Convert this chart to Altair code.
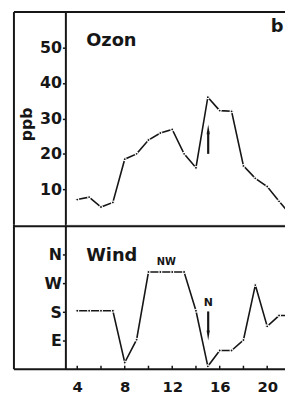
import altair as alt
import pandas as pd

# ---- data ----
hours = list(range(4, 23))
ozone = [7.1, 7.8, 5.0, 6.3, 18.5, 20.0, 23.9, 25.9, 26.9, 20.0, 16.1, 36.0, 32.2, 32.0, 16.6, 13.1, 10.8, 6.6, 2.7]
wind = [184, 184, 184, 184, 21, 93, 306, 306, 306, 306, 184, 9, 59, 59, 92, 265, 135, 169, 169]

ozone_ticks = [10, 20, 30, 40, 50]
wind_ticks = [90, 180, 270, 360]
wind_tick_labels = ["E", "S", "W", "N"]
hour_labels = [4, 8, 12, 16, 20]
hour_minor_ticks = [4, 6, 8, 10, 12, 14, 16, 18, 20]

ozone_text = ["Ozon", "b"]
ozone_text_x = [4.75, 20.83]
ozone_text_y = [51.8, 55.7]
ozone_text_size = [18, 18]
ozone_text_align = ["left", "center"]

wind_text = ["Wind", "NW", "N"]
wind_text_x = [4.75, 11.5, 15.03]
wind_text_y = [356, 337, 208]
wind_text_size = [18, 10, 11]
wind_text_align = ["left", "center", "center"]

# arrows (x, shaft start, shaft end, head centre)
ozone_arrow = {"x": [15.03], "y": [20.0], "y2": [26.4], "yh": [26.9]}
wind_arrow = {"x": [15.03], "y": [182.0], "y2": [118.0], "yh": [106.0]}

FONT = "DejaVu Sans"
INK = "#161616"
W = 228
H1 = 215
H2 = 146

xscale = alt.Scale(domain=[3, 22], nice=False, zero=False)
y1scale = alt.Scale(domain=[0, 60], nice=False, zero=False)
y2scale = alt.Scale(domain=[0, 455], nice=False, zero=False)

axis_common = dict(
    labelFont=FONT, labelFontWeight="bold", labelFontSize=16, labelColor=INK,
    domainColor=INK, domainWidth=2, tickColor=INK, tickWidth=1.5, tickSize=3,
    labelPadding=1, grid=False,
)

ozone_df = pd.DataFrame({"hour": hours, "v": ozone})
wind_df = pd.DataFrame({"hour": hours, "v": wind})
one = pd.DataFrame({"a": [0]})

UP = "M0,-1L0.32,1L-0.32,1Z"
DOWN = "M0,1L0.32,-1L-0.32,-1Z"


def X(field, xaxis):
    if xaxis is None:
        return alt.X(field, scale=xscale, axis=None)
    return alt.X(field, scale=xscale)


def frame(height, top_line):
    left = alt.Chart(one).mark_rule(color=INK, strokeWidth=2).encode(
        x=alt.value(-52), y=alt.value(0), y2=alt.value(height))
    horiz = alt.Chart(one).mark_rule(color=INK, strokeWidth=2).encode(
        x=alt.value(-52), x2=alt.value(W), y=alt.value(top_line))
    return left + horiz


def data_layers(df, yscale, axis, xaxis):
    line = alt.Chart(df).mark_line(color=INK, strokeWidth=1.6, clip=True).encode(
        x=X("hour:Q", xaxis),
        y=alt.Y("v:Q", scale=yscale, axis=axis),
    )
    pts = alt.Chart(df).mark_circle(fill=INK, stroke="white", strokeWidth=1.1,
                                    size=9, opacity=1, clip=True).encode(
        x=X("hour:Q", xaxis),
        y=alt.Y("v:Q", scale=yscale),
    )
    return line + pts


def text_layer(labels, xs, ys, sizes, aligns, yscale, xaxis):
    layers = []
    for t, x, y, s, a in zip(labels, xs, ys, sizes, aligns):
        d = pd.DataFrame({"x": [x], "y": [y], "t": [t]})
        layers.append(alt.Chart(d).mark_text(font=FONT, fontWeight="bold", fontSize=s,
                                             align=a, baseline="middle", color=INK).encode(
            x=X("x:Q", xaxis),
            y=alt.Y("y:Q", scale=yscale),
            text="t:N",
        ))
    return alt.layer(*layers)


def arrow(spec, yscale, shape, xaxis):
    d = pd.DataFrame(spec)
    shaft = alt.Chart(d).mark_rule(color=INK, strokeWidth=2.2).encode(
        x=X("x:Q", xaxis),
        y=alt.Y("y:Q", scale=yscale), y2="y2:Q")
    head = alt.Chart(d).mark_point(shape=shape, filled=True, size=100, color=INK, opacity=1).encode(
        x=X("x:Q", xaxis),
        y=alt.Y("yh:Q", scale=yscale))
    return shaft + head


top_axis = alt.Axis(values=ozone_ticks, title="ppb", titleFont=FONT, titleFontSize=16,
                    titleFontWeight="bold", titleColor=INK, titlePadding=5, titleY=113,
                    **axis_common)

top = alt.layer(
    data_layers(ozone_df, y1scale, top_axis, None),
    frame(H1, 0),
    text_layer(ozone_text, ozone_text_x, ozone_text_y, ozone_text_size, ozone_text_align, y1scale, None),
    arrow(ozone_arrow, y1scale, UP, None),
).properties(width=W, height=H1)

label_expr = " : ".join(
    f"datum.value == {v} ? '{l}'" for v, l in zip(wind_ticks[:-1], wind_tick_labels[:-1])
) + f" : '{wind_tick_labels[-1]}'"
bottom_axis = alt.Axis(values=wind_ticks, title="", labelExpr=label_expr, **axis_common)

minor_df = pd.DataFrame({"hour": hour_minor_ticks, "y0": [0] * len(hour_minor_ticks),
                         "y1": [11] * len(hour_minor_ticks)})
x_axis = alt.Axis(values=hour_labels, title="", tickSize=0, domain=False, grid=False,
                  labelFont=FONT, labelFontWeight="bold", labelFontSize=15,
                  labelColor=INK, labelPadding=11, labelFlush=False)
minor = alt.Chart(minor_df).mark_rule(color=INK, strokeWidth=1.5).encode(
    x=alt.X("hour:Q", scale=xscale, axis=x_axis),
    y=alt.Y("y0:Q", scale=y2scale), y2="y1:Q",
)

bottom_lines = frame(H2, 1.5) + alt.Chart(one).mark_rule(color=INK, strokeWidth=2).encode(
    x=alt.value(-52), x2=alt.value(W), y=alt.value(H2))

bottom = alt.layer(
    data_layers(wind_df, y2scale, bottom_axis, "default"),
    minor,
    bottom_lines,
    text_layer(wind_text, wind_text_x, wind_text_y, wind_text_size, wind_text_align, y2scale, "default"),
    arrow(wind_arrow, y2scale, DOWN, "default"),
).properties(width=W, height=H2)

chart = alt.vconcat(top, bottom, spacing=0, bounds="flush").properties(
    padding={"left": 4, "top": 0, "right": -8, "bottom": 0}
).configure_view(stroke=None).configure(background="white")

chart.save("out.html", embed_options={"renderer": "svg", "actions": False})
